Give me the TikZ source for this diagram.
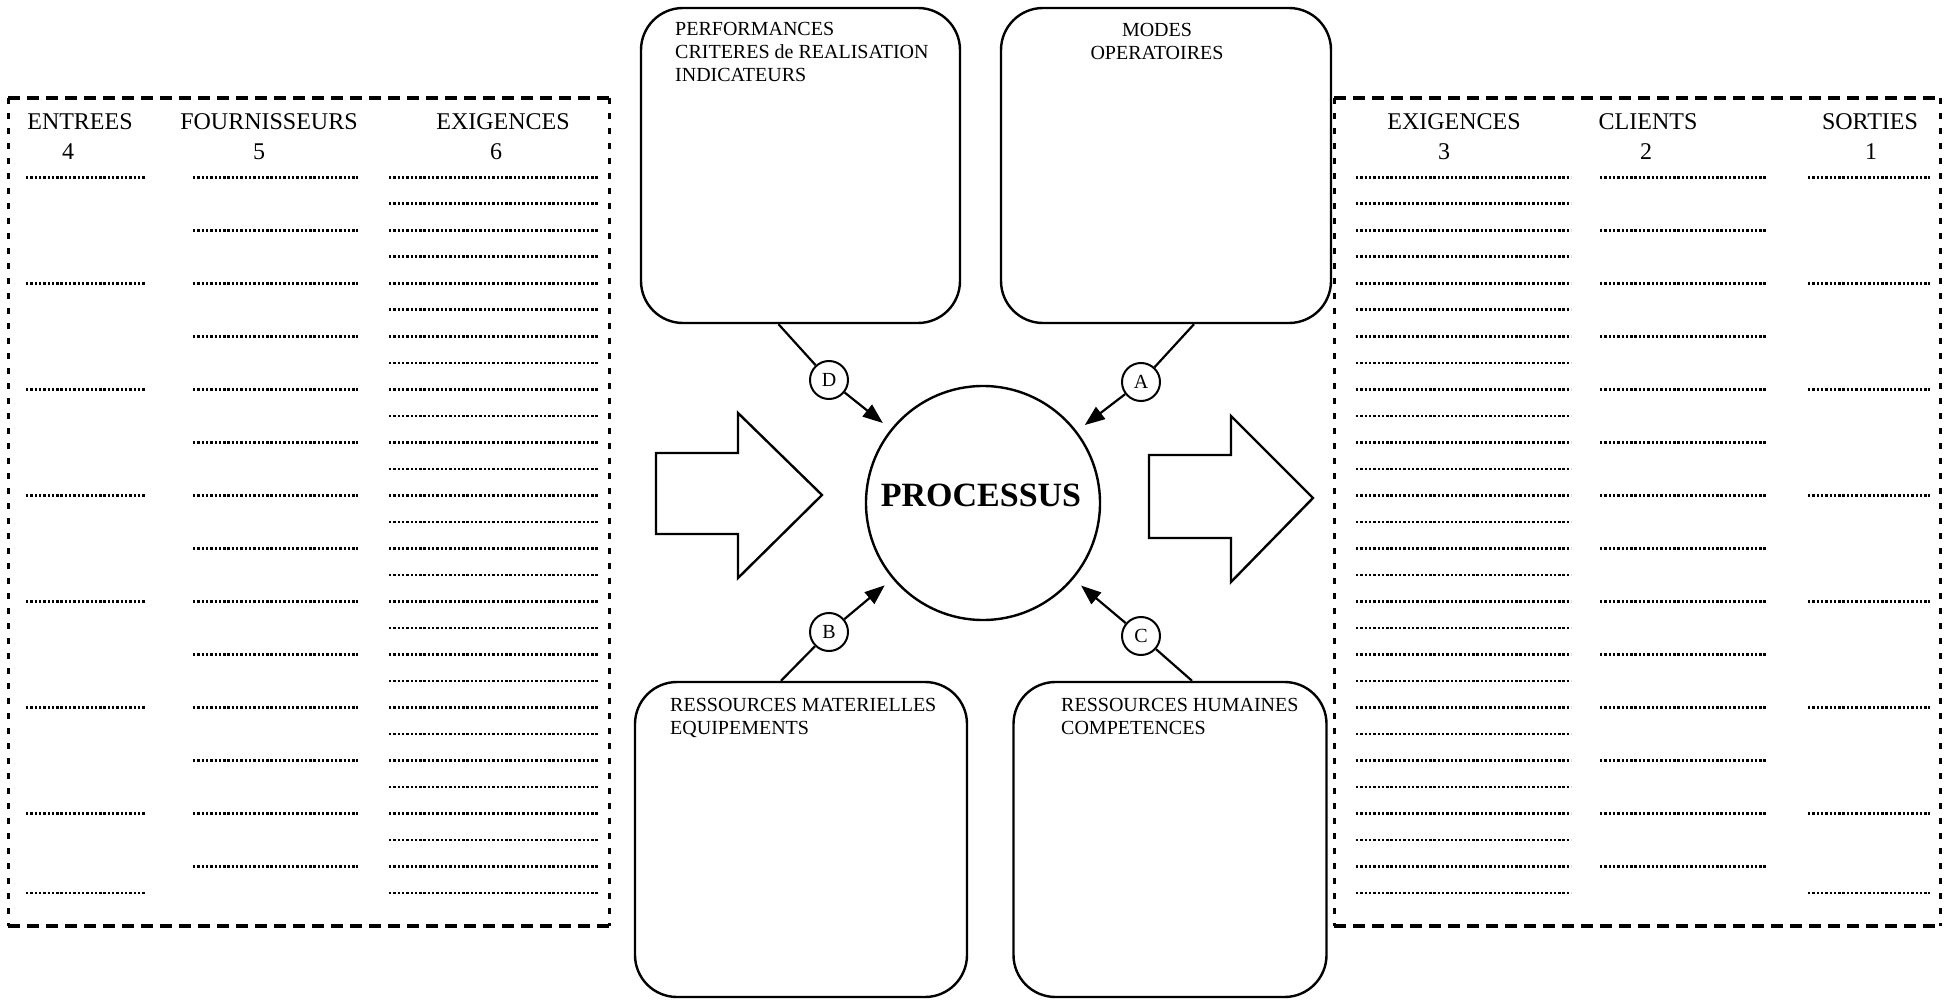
\documentclass[tikz,border=0pt]{standalone}
\usepackage{fontspec}
\setmainfont{Liberation Serif}
\usetikzlibrary{arrows.meta}
\begin{document}
\begin{tikzpicture}[x=1pt,y=-1pt,
  box/.style={draw, line width=2.4pt, rounded corners=42pt, inner sep=0pt},
  frameH/.style={line width=3.5pt, dash pattern=on 12pt off 7pt},
  frameV/.style={line width=3pt, dash pattern=on 6pt off 9pt},
  hdr/.style={font=\fontsize{24}{28}\selectfont, inner sep=0pt, anchor=base},
  boxtext/.style={font=\fontsize{20}{23}\selectfont, inner sep=0pt, align=left, anchor=north west},
  letter/.style={draw, circle, line width=2pt, minimum size=38pt, inner sep=0pt, font=\fontsize{20}{24}\selectfont, fill=white},
  link/.style={line width=2.2pt},
  arr/.style={line width=2.2pt, -{Triangle[length=20pt,width=15pt]}, shorten >=10pt},
  bigarrow/.style={draw, line width=2.4pt, line join=miter},
  dotrow/.style={line width=2.6pt, dash pattern=on 2.4pt off 1.9pt}
]
\useasboundingbox (0,0) rectangle (1949,1000);

% ---------- left dashed frame ----------
\draw[frameH] (8,98) -- (609,98);
\draw[frameH] (8,926) -- (609,926);
\draw[frameV] (8,98) -- (8,926);
\draw[frameV] (609,98) -- (609,926);

% ---------- right dashed frame ----------
\draw[frameH] (1334,98) -- (1940,98);
\draw[frameH] (1334,926) -- (1940,926);
\draw[frameV] (1334,98) -- (1334,926);
\draw[frameV] (1940,98) -- (1940,926);

% ---------- headers ----------
\node[hdr] (hEnt) at (80,130) {ENTREES};
\node[hdr] (nEnt) at (68,160) {4};
\node[hdr] (hFou) at (269,130) {FOURNISSEURS};
\node[hdr] (nFou) at (259,160) {5};
\node[hdr] (hExL) at (503,130) {EXIGENCES};
\node[hdr] (nExL) at (496,160) {6};
\node[hdr] (hExR) at (1454,130) {EXIGENCES};
\node[hdr] (nExR) at (1444,160) {3};
\node[hdr] (hCli) at (1648,130) {CLIENTS};
\node[hdr] (nCli) at (1646,160) {2};
\node[hdr] (hSor) at (1870,130) {SORTIES};
\node[hdr] (nSor) at (1871,160) {1};

% ---------- dotted rows ----------
\foreach \k in {0,4,8,12,16,20,24,27} {
  \draw[dotrow] (26,{177.3+26.5*\k}) -- (146,{177.3+26.5*\k});
  \draw[dotrow] (1808,{177.3+26.5*\k}) -- (1930,{177.3+26.5*\k});
}
\foreach \k in {0,2,...,26} {
  \draw[dotrow] (193,{177.3+26.5*\k}) -- (358,{177.3+26.5*\k});
  \draw[dotrow] (1600,{177.3+26.5*\k}) -- (1766,{177.3+26.5*\k});
}
\foreach \k in {0,...,27} {
  \draw[dotrow] (389,{177.3+26.5*\k}) -- (599,{177.3+26.5*\k});
  \draw[dotrow] (1356,{177.3+26.5*\k}) -- (1571,{177.3+26.5*\k});
}

% ---------- rounded boxes ----------
\node[box, minimum width=319pt, minimum height=315pt] (tl) at (800.5,165.5) {};
\node[box, minimum width=330pt, minimum height=315pt] (tr) at (1166,165.5) {};
\node[box, minimum width=332pt, minimum height=315pt] (bl) at (801,839.5) {};
\node[box, minimum width=313pt, minimum height=315pt] (br) at (1170,839.5) {};

\node[boxtext] (tlt) at (675,22) {PERFORMANCES\\CRITERES de REALISATION\\INDICATEURS};
\node[boxtext, align=center, anchor=north] (trt) at (1157,23) {MODES\\OPERATOIRES};
\node[boxtext] (blt) at (670,698) {RESSOURCES MATERIELLES\\EQUIPEMENTS};
\node[boxtext] (brt) at (1061,698) {RESSOURCES HUMAINES\\COMPETENCES};

% ---------- process circle ----------
\node[draw, circle, line width=2.4pt, minimum size=234pt, inner sep=0pt] (proc) at (983,503) {};
\node[font=\fontsize{34}{40}\selectfont\bfseries, inner sep=0pt] (proct) at (981,495) {PROCESSUS};

% ---------- big arrows ----------
\draw[bigarrow] (656,453) -- (738,453) -- (738,413) -- (822,495) -- (738,578) -- (738,534) -- (656,534) -- cycle;
\draw[bigarrow] (1149,455) -- (1231,455) -- (1231,416) -- (1313,498) -- (1231,582) -- (1231,538) -- (1149,538) -- cycle;

% ---------- letter circles and connectors ----------
\node[letter] (D) at (829,380) {D};
\node[letter] (A) at (1141,382) {A};
\node[letter] (B) at (829,632) {B};
\node[letter] (C) at (1141,636) {C};

\draw[link] ([xshift=-22pt]tl.south) -- (D);
\draw[link] ([xshift=28pt]tr.south) -- (A);
\draw[link] ([xshift=-20pt]bl.north) -- (B);
\draw[link] ([xshift=22pt]br.north) -- (C);

\draw[arr] (D) -- (proc);
\draw[arr] (A) -- (proc);
\draw[arr] (B) -- (proc);
\draw[arr] (C) -- (proc);
\end{tikzpicture}
\end{document}
